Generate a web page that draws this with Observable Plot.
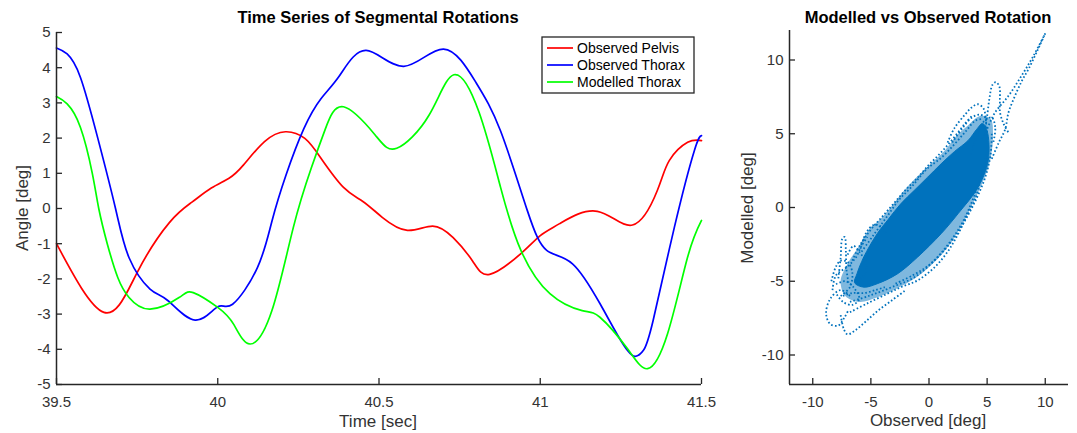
<!DOCTYPE html>
<html><head><meta charset="utf-8">
<script src="https://cdn.jsdelivr.net/npm/d3@7"></script>
<script src="https://cdn.jsdelivr.net/npm/@observablehq/plot@0.6"></script>
<style>
body{margin:0;background:#fff;}
#wrap{position:relative;width:1077px;height:433px;overflow:hidden;background:#fff;}
#wrap > svg, #wrap > div{position:absolute;}
</style></head><body><div id="wrap"></div>
<script>
// ---------- data ----------
const timeDomain = [39.5, 41.5];
const angleDomain = [-5, 5];
const timeTicks = [39.5, 40, 40.5, 41, 41.5];
const angleTicks = [-5, -4, -3, -2, -1, 0, 1, 2, 3, 4, 5];
const scatterDomain = [-12, 12];
const scatterTicks = [-10, -5, 0, 5, 10];
const seriesNames = ["Observed Pelvis", "Observed Thorax", "Modelled Thorax"];
const seriesColors = ["#ff0000", "#0000ff", "#00ff00"];

const observedPelvis = [[39.5,-1.0],[39.647,-2.95],[39.75,-1.82],[39.85,-0.4],[39.92,0.18],[39.98,0.58],[40.035,0.86],[40.08,1.24],[40.145,1.9],[40.21,2.18],[40.27,1.99],[40.32,1.43],[40.39,0.6],[40.45,0.2],[40.51,-0.25],[40.588,-0.62],[40.666,-0.5],[40.73,-0.83],[40.79,-1.49],[40.843,-1.87],[40.94,-1.28],[41.0,-0.77],[41.06,-0.43],[41.177,-0.08],[41.286,-0.47],[41.363,0.51],[41.4,1.36],[41.457,1.88],[41.5,1.93]];
const observedThorax = [[39.5,4.56],[39.533,4.39],[39.574,3.73],[39.628,2.0],[39.683,0.0],[39.725,-1.4],[39.79,-2.29],[39.846,-2.62],[39.93,-3.17],[40.0,-2.79],[40.046,-2.72],[40.123,-1.68],[40.168,-0.36],[40.212,0.96],[40.267,2.27],[40.32,3.12],[40.378,3.78],[40.46,4.49],[40.577,4.04],[40.7,4.53],[40.8,3.59],[40.877,2.2],[40.96,-0.06],[41.02,-1.19],[41.1,-1.57],[41.185,-2.7],[41.24,-3.6],[41.272,-4.05],[41.295,-4.2],[41.32,-4.03],[41.35,-3.18],[41.416,-0.53],[41.478,1.65],[41.5,2.07]];
const modelledThorax = [[39.5,3.18],[39.533,2.97],[39.574,2.31],[39.611,1.0],[39.631,0.0],[39.658,-1.02],[39.69,-1.96],[39.725,-2.53],[39.79,-2.86],[39.88,-2.53],[39.924,-2.39],[40.0,-2.81],[40.05,-3.3],[40.1,-3.85],[40.168,-2.9],[40.234,-0.55],[40.29,1.15],[40.334,2.27],[40.39,2.89],[40.488,2.09],[40.555,1.71],[40.655,2.65],[40.732,3.8],[40.81,2.74],[40.877,0.6],[40.94,-1.19],[41.03,-2.42],[41.13,-2.9],[41.185,-3.09],[41.27,-3.98],[41.333,-4.55],[41.395,-3.55],[41.457,-1.38],[41.5,-0.34]];

// scatter: dense core outline, surrounding dotted haze, and dotted trajectories (observed, modelled)
const coreOutline = [[-6.2,-4.5],[-5.62,-3.37],[-4.46,-1.78],[-3.5,-0.8],[-2.43,0.25],[-1.28,1.15],[-0.12,2.05],[1.04,2.96],[2.2,3.8],[3.36,4.54],[4.1,5.3],[4.6,5.7],[5.0,5.2],[5.1,3.19],[4.23,1.38],[2.49,-0.43],[1.04,-1.78],[-0.99,-3.37],[-2.72,-4.5],[-4.46,-5.17],[-5.6,-5.4],[-6.4,-5.1]];
const hazeOutline = [[-7.6,-5.0],[-7.0,-3.8],[-6.0,-2.6],[-5.2,-1.5],[-4.2,-0.8],[-3.2,0.1],[-2.2,1.1],[-1.0,2.1],[0.2,3.0],[1.4,3.9],[2.4,4.9],[3.4,5.6],[4.4,6.2],[5.3,6.0],[5.5,4.8],[5.2,3.0],[4.5,1.5],[3.6,0.0],[2.6,-1.5],[1.4,-2.9],[0.2,-3.9],[-1.2,-4.8],[-2.8,-5.5],[-4.5,-6.1],[-6.0,-6.4],[-7.2,-6.0]];
const tailOuter = [[5.4,3.3],[6.0,4.4],[6.55,5.3],[6.84,6.44],[7.4,7.57],[8.0,8.6],[8.57,9.4],[9.3,10.6],[10.0,11.8]];
const tailInner = [[10.0,11.8],[9.0,10.3],[7.96,8.93],[6.84,7.57],[5.68,6.44],[5.1,5.5],[4.6,4.6]];
const peakLoop = [[4.8,5.2],[5.0,6.2],[5.2,7.4],[5.45,8.3],[5.75,8.5],[6.05,8.2],[6.1,7.3],[6.1,6.5],[6.4,5.7],[6.9,5.0]];
const upperLoop = [[1.6,4.4],[2.2,5.4],[3.1,6.3],[3.7,6.8],[4.2,7.0],[4.7,6.7],[4.9,5.8],[5.0,5.0]];
const upperLoop2 = [[2.0,4.4],[2.9,5.4],[3.7,6.1],[4.4,6.3],[5.0,6.0]];
const upperEdge = [[-5.8,-3.0],[-4.8,-1.9],[-3.6,-0.6],[-2.6,0.5],[-1.5,1.4],[-0.2,2.6],[1.1,3.4],[2.2,4.3],[3.2,5.2],[4.0,5.9],[4.6,6.0]];
const edgeA = [[-6.6,-3.6],[-5.9,-2.5],[-5.0,-1.5],[-4.0,-0.6],[-3.0,0.3],[-2.0,1.2],[-1.0,2.0],[0.0,2.9],[1.0,3.7],[2.0,4.6],[3.0,5.6],[3.8,6.3]];
const edgeB = [[5.4,5.0],[5.3,3.6],[4.9,2.2],[4.2,0.8],[3.3,-0.6],[2.3,-1.9],[1.2,-3.0],[0.0,-3.9],[-1.4,-4.6],[-3.0,-5.2]];
const edgeC = [[-7.0,-3.2],[-6.5,-2.6],[-6.0,-3.0],[-5.4,-3.8],[-5.6,-4.6],[-6.3,-5.0]];
const cornerLoop = [[3.6,3.6],[4.2,5.0],[4.8,5.9],[5.4,6.1],[5.7,5.4],[5.5,4.3]];
const lowerEnvelope = [[-6.8,-7.1],[-5.3,-6.5],[-3.6,-5.85],[-2.4,-5.4],[-1.0,-4.95],[0.46,-4.07],[1.6,-3.0],[2.5,-1.8],[3.3,-0.5],[3.94,0.5],[4.5,2.0],[4.8,2.75],[5.1,4.0]];
const lowerEnvelope2 = [[-6.8,-6.4],[-5.2,-6.0],[-3.2,-5.4],[-1.2,-4.7],[0.8,-3.3],[2.6,-1.4],[3.7,0.4],[4.5,2.3],[5.0,3.8]];
const lowerBand = [[-7.4,-6.0],[-6.6,-5.8],[-5.6,-5.8],[-4.6,-5.6],[-3.8,-5.4]];
const leftBigLoop = [[-6.8,-6.0],[-7.6,-5.6],[-8.5,-6.2],[-8.85,-7.2],[-8.5,-7.9],[-7.8,-8.0],[-7.3,-7.5],[-6.9,-6.9]];
const bottomLoop = [[-7.6,-7.3],[-7.3,-8.3],[-7.0,-8.6],[-6.3,-8.3],[-5.4,-7.7],[-4.4,-7.0],[-3.2,-6.3],[-2.0,-5.6]];
const spikeLoop = [[-7.8,-4.8],[-7.6,-3.4],[-7.45,-2.1],[-7.25,-2.0],[-7.15,-3.0],[-7.1,-4.2],[-6.9,-5.2]];
const leftFringe = [[-8.3,-5.6],[-8.0,-4.6],[-7.0,-4.0],[-6.3,-3.4],[-5.8,-2.6],[-5.3,-2.0]];
const leftLoop = [[-8.4,-5.0],[-8.0,-4.0],[-7.6,-3.6],[-7.0,-3.7],[-6.6,-4.4],[-6.8,-5.4],[-7.6,-6.0]];
const leftBump = [[-5.9,-2.8],[-5.4,-1.7],[-4.8,-1.2],[-4.2,-1.25],[-3.7,-1.8]];
const leftCluster = [[-8.0,-5.2],[-7.2,-5.0],[-6.5,-5.4],[-6.0,-6.2],[-6.6,-6.6],[-7.4,-6.4],[-8.0,-5.8]];

// ---------- styling ----------
const FONT = '"Liberation Sans", Arial, Helvetica, sans-serif';
const AX = "#262626";
const BLUE = "#0072BD";
const fmt = d => String(d);

const rows = [observedPelvis, observedThorax, modelledThorax]
  .flatMap((arr, i) => arr.map(([t, v]) => ({t, v, series: seriesNames[i]})));

const loops = {tailOuter, tailInner, peakLoop, upperLoop, upperLoop2, upperEdge, edgeA, edgeB, edgeC, cornerLoop, lowerEnvelope, lowerEnvelope2, lowerBand, leftBigLoop, bottomLoop, spikeLoop, leftFringe, leftLoop, leftBump, leftCluster};
const loopRows = Object.entries(loops).flatMap(([k, arr]) => arr.map(([x, y]) => ({x, y, loop: k})));

const wrap = document.getElementById("wrap");

const left = Plot.plot({
  width: 720, height: 433,
  marginLeft: 56, marginRight: 19, marginTop: 32, marginBottom: 49,
  x: {domain: timeDomain},
  y: {domain: angleDomain},
  color: {domain: seriesNames, range: seriesColors},
  style: {fontFamily: FONT, fontSize: "15px", color: "#333", background: "transparent", overflow: "visible"},
  marks: [
    Plot.line(rows, {x: "t", y: "v", z: "series", stroke: "series", strokeWidth: 1.7, curve: "natural"}),
    Plot.ruleX([timeDomain[0]], {stroke: AX, strokeWidth: 1.5}),
    Plot.ruleY([angleDomain[0]], {stroke: AX, strokeWidth: 1.5}),
    Plot.axisX({ticks: timeTicks, tickSize: -6, tickPadding: 18, label: null, tickFormat: fmt, stroke: AX, strokeWidth: 1.3}),
    Plot.axisY({ticks: angleTicks, tickSize: -6, tickPadding: 12, label: null, tickFormat: fmt, stroke: AX, strokeWidth: 1.3})
  ]
});
left.style.left = "0px"; left.style.top = "0px";
wrap.appendChild(left);

const right = Plot.plot({
  width: 337, height: 433,
  marginLeft: 49, marginRight: 9, marginTop: 30, marginBottom: 49,
  x: {domain: scatterDomain},
  y: {domain: scatterDomain},
  style: {fontFamily: FONT, fontSize: "15px", color: "#333", background: "transparent", overflow: "visible"},
  marks: [
    Plot.line(hazeOutline, {x: d => d[0], y: d => d[1], fill: BLUE, fillOpacity: 0.5, stroke: "none", curve: "catmull-rom-closed"}),
    Plot.line(coreOutline, {x: d => d[0], y: d => d[1], fill: BLUE, stroke: BLUE, strokeWidth: 1, curve: "catmull-rom-closed"}),
    Plot.line(loopRows, {x: "x", y: "y", z: "loop", stroke: BLUE, strokeWidth: 1.8, strokeDasharray: "1.6,2.2", strokeLinecap: "butt", curve: "catmull-rom"}),
    Plot.ruleX([scatterDomain[0]], {stroke: AX, strokeWidth: 1.5}),
    Plot.ruleY([scatterDomain[0]], {stroke: AX, strokeWidth: 1.5}),
    Plot.axisX({ticks: scatterTicks, tickSize: -6, tickPadding: 18, label: null, tickFormat: fmt, stroke: AX, strokeWidth: 1.3}),
    Plot.axisY({ticks: scatterTicks, tickSize: -6, tickPadding: 12, label: null, tickFormat: fmt, stroke: AX, strokeWidth: 1.3})
  ]
});
right.style.left = "740px"; right.style.top = "0px";
wrap.appendChild(right);

// ---------- titles, axis labels, legend ----------
const ov = d3.create("svg").attr("width", 1077).attr("height", 433)
  .style("left", "0px").style("top", "0px").style("pointer-events", "none")
  .attr("font-family", FONT);
const titles = [
  {text: "Time Series of Segmental Rotations", x: 378, y: 23},
  {text: "Modelled vs Observed Rotation", x: 928, y: 23}
];
ov.selectAll("text.title").data(titles).join("text").attr("class", "title")
  .attr("x", d => d.x).attr("y", d => d.y).attr("text-anchor", "middle")
  .attr("font-weight", "bold").attr("font-size", 16.5).attr("fill", "#000").text(d => d.text);
const axisLabels = [
  {text: "Time [sec]", x: 378, y: 427, r: 0},
  {text: "Observed [deg]", x: 928, y: 426, r: 0},
  {text: "Angle [deg]", x: 28, y: 208, r: -90},
  {text: "Modelled [deg]", x: 753, y: 208, r: -90}
];
ov.selectAll("text.alabel").data(axisLabels).join("text").attr("class", "alabel")
  .attr("transform", d => `translate(${d.x},${d.y}) rotate(${d.r})`)
  .attr("text-anchor", "middle").attr("font-size", 17).attr("fill", "#333").text(d => d.text);

const lg = ov.append("g").attr("transform", "translate(542,37)");
lg.append("rect").attr("width", 152).attr("height", 56).attr("fill", "#fff").attr("stroke", AX).attr("stroke-width", 1.3);
const items = lg.selectAll("g.item").data(seriesNames).join("g")
  .attr("transform", (d, i) => `translate(0,${11 + i * 17})`);
items.append("line").attr("x1", 5).attr("x2", 31).attr("stroke", (d, i) => seriesColors[i]).attr("stroke-width", 1.7);
items.append("text").attr("x", 35).attr("y", 5).attr("font-size", 14).attr("fill", "#000").text(d => d);

wrap.appendChild(ov.node());
</script></body></html>
